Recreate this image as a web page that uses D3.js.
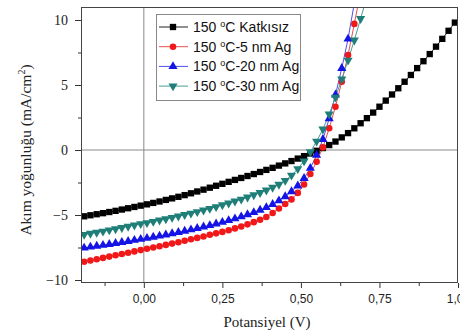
<!DOCTYPE html>
<html>
<head>
<meta charset="utf-8">
<script src="https://cdn.jsdelivr.net/npm/d3@7"></script>
<style>
  html, body { margin: 0; padding: 0; background: #fff; }
  svg { display: block; }
</style>
</head>
<body>
<div id="chart"></div>
<script>
'use strict';

/*** Data */
/* Potential (V), one marker every 0.02 V */
const voltage = [
  -0.19, -0.17, -0.15, -0.13, -0.11, -0.09, -0.07, -0.05, -0.03, -0.01,
   0.01,  0.03,  0.05,  0.07,  0.09,  0.11,  0.13,  0.15,  0.17,  0.19,
   0.21,  0.23,  0.25,  0.27,  0.29,  0.31,  0.33,  0.35,  0.37,  0.39,
   0.41,  0.43,  0.45,  0.47,  0.49,  0.51,  0.53,  0.55,  0.57,  0.59,
   0.61,  0.63,  0.65,  0.67,  0.69,  0.71,  0.73,  0.75,  0.77,  0.79,
   0.81,  0.83,  0.85,  0.87,  0.89,  0.91,  0.93,  0.95,  0.97,  0.99
];

/* Current density (mA/cm2) */
const undoped = [
  -5.10, -5.02, -4.94, -4.86, -4.77, -4.68, -4.58, -4.48, -4.38, -4.28,
  -4.18, -4.07, -3.96, -3.84, -3.72, -3.60, -3.47, -3.33, -3.19, -3.05,
  -2.90, -2.75, -2.60, -2.45, -2.30, -2.15, -2.00, -1.85, -1.69, -1.53,
  -1.37, -1.20, -1.03, -0.85, -0.66, -0.47, -0.27, -0.06,  0.15,  0.38,
   0.65,  0.97,  1.30,  1.67,  2.06,  2.45,  2.88,  3.33,  3.80,  4.27,
   4.75,  5.25,  5.77,  6.30,  6.83,  7.38,  7.95,  8.55,  9.17,  9.80
];
const ag5 = [
  -8.60, -8.50, -8.40, -8.30, -8.20, -8.10, -8.00, -7.90, -7.80, -7.70,
  -7.60, -7.50, -7.40, -7.30, -7.20, -7.09, -6.98, -6.87, -6.76, -6.65,
  -6.52, -6.41, -6.30, -6.17, -6.03, -5.88, -5.72, -5.55, -5.36, -5.15,
  -4.85, -4.50, -4.15, -3.80, -3.30, -2.65, -1.85, -0.90,  0.20,  1.67,
   3.33,  5.25,  7.30,  9.70, 12.20
];
const ag20 = [
  -7.53, -7.46, -7.39, -7.32, -7.25, -7.18, -7.10, -7.02, -6.94, -6.86,
  -6.78, -6.70, -6.61, -6.52, -6.43, -6.33, -6.23, -6.13, -6.02, -5.91,
  -5.80, -5.68, -5.55, -5.42, -5.28, -5.13, -4.97, -4.80, -4.62, -4.42,
  -4.18, -3.90, -3.58, -3.20, -2.75, -2.18, -1.40, -0.40,  0.82,  2.42,
   4.25,  6.28,  8.54, 11.30, 14.00
];
const ag30 = [
  -6.50, -6.42, -6.34, -6.25, -6.16, -6.07, -5.98, -5.88, -5.78, -5.68,
  -5.60, -5.50, -5.40, -5.30, -5.20, -5.09, -4.98, -4.87, -4.75, -4.63,
  -4.50, -4.37, -4.23, -4.09, -3.94, -3.79, -3.63, -3.46, -3.28, -3.09,
  -2.88, -2.65, -2.35, -1.95, -1.45, -0.85, -0.15,  0.67,  1.60,  2.75,
   4.05,  5.45,  6.90,  8.45, 10.10, 11.80
];

/* Legend names */
const seriesNames = ["Katkısız", "-5 nm Ag", "-20 nm Ag", "-30 nm Ag"];

/* Tick labels */
const xTicks = [0, 0.25, 0.5, 0.75, 1.0];
const xTickLabels = ["0,00", "0,25", "0,50", "0,75", "1,00"];
const xMinor = [-0.125, 0.125, 0.375, 0.625, 0.875];
const yTicks = [-10, -5, 0, 5, 10];
const yMinor = [-7.5, -2.5, 2.5, 7.5];

/*** Layout */
const w = 460;
const h = 336;
const plot = { left: 81, right: 458, top: 7, bottom: 283 };

const svg = d3.select("#chart")
  .append("svg")
  .attr("width", w)
  .attr("height", h);

const xScale = d3.scaleLinear()
  .domain([-0.2, 1.0])
  .range([plot.left, plot.right]);

const yScale = d3.scaleLinear()
  .domain([-10.23, 11])
  .range([plot.bottom, plot.top]);

/* Series styling */
const series = [
  { name: seriesNames[0], values: undoped, color: "#000000", line: "#222222", symbol: d3.symbolSquare, size: 40, rotate: 0 },
  { name: seriesNames[1], values: ag5, color: "#f01818", line: "#e65050", symbol: d3.symbolCircle, size: 34, rotate: 0 },
  { name: seriesNames[2], values: ag20, color: "#1414e6", line: "#5050e6", symbol: d3.symbolTriangle, size: 36, rotate: 0 },
  { name: seriesNames[3], values: ag30, color: "#1f7f78", line: "#4a9e96", symbol: d3.symbolTriangle, size: 36, rotate: 180 }
];

/*** Clip */
svg.append("defs").append("clipPath")
  .attr("id", "clip")
  .append("rect")
  .attr("x", plot.left)
  .attr("y", plot.top)
  .attr("width", plot.right - plot.left)
  .attr("height", plot.bottom - plot.top);

/*** Zero lines */
svg.append("line")
  .attr("x1", xScale(0)).attr("x2", xScale(0))
  .attr("y1", plot.top).attr("y2", plot.bottom)
  .attr("stroke", "#8a8a8a").attr("stroke-width", 1);
svg.append("line")
  .attr("x1", plot.left).attr("x2", plot.right)
  .attr("y1", yScale(0)).attr("y2", yScale(0))
  .attr("stroke", "#8a8a8a").attr("stroke-width", 1);

/*** Series */
const lineGen = d3.line()
  .x((d) => xScale(d[0]))
  .y((d) => yScale(d[1]));

const marks = svg.append("g").attr("clip-path", "url(#clip)");

series.forEach((s) => {
  const pts = s.values.map((v, i) => [voltage[i], v]);
  marks.append("path")
    .datum(pts)
    .attr("d", lineGen)
    .attr("fill", "none")
    .attr("stroke", s.line)
    .attr("stroke-width", 1);
});

series.forEach((s) => {
  const pts = s.values.map((v, i) => [voltage[i], v]);
  const sym = d3.symbol().type(s.symbol).size(s.size);
  marks.selectAll(null)
    .data(pts)
    .enter()
    .append("path")
    .attr("d", sym)
    .attr("transform", (d) => "translate(" + xScale(d[0]) + "," + yScale(d[1]) + ") rotate(" + s.rotate + ")")
    .attr("fill", s.color);
});

/*** Axes */
const xAxis = d3.axisBottom(xScale)
  .tickValues(xTicks)
  .tickSize(5)
  .tickPadding(6)
  .tickFormat((d) => xTickLabels[xTicks.indexOf(d)]);

const xAxisMinor = d3.axisBottom(xScale)
  .tickValues(xMinor)
  .tickSize(3)
  .tickFormat("");

const yAxis = d3.axisLeft(yScale)
  .tickValues(yTicks)
  .tickSize(6)
  .tickPadding(7)
  .tickFormat(d3.format("d"));

const yAxisMinor = d3.axisLeft(yScale)
  .tickValues(yMinor)
  .tickSize(3)
  .tickFormat("");

const gx = svg.append("g")
  .attr("transform", "translate(0," + plot.bottom + ")")
  .call(xAxis);
gx.selectAll("text")
  .attr("font-family", "'Liberation Sans', Arial, sans-serif")
  .attr("font-size", 12)
  .attr("fill", "#222");

svg.append("g")
  .attr("transform", "translate(0," + plot.bottom + ")")
  .call(xAxisMinor);

const gy = svg.append("g")
  .attr("transform", "translate(" + plot.left + ",0)")
  .call(yAxis);
gy.selectAll("text")
  .attr("font-family", "'Liberation Serif', 'Times New Roman', serif")
  .attr("font-size", 14)
  .attr("fill", "#222");

svg.append("g")
  .attr("transform", "translate(" + plot.left + ",0)")
  .call(yAxisMinor);

svg.selectAll(".domain").remove();
svg.selectAll(".tick line").attr("stroke", "#333");

/*** Frame */
svg.append("rect")
  .attr("x", plot.left + 0.5)
  .attr("y", plot.top + 0.5)
  .attr("width", plot.right - plot.left - 1)
  .attr("height", plot.bottom - plot.top - 1)
  .attr("fill", "none")
  .attr("stroke", "#444")
  .attr("stroke-width", 1);

/*** Axis titles */
svg.append("text")
  .attr("x", 267)
  .attr("y", 327)
  .attr("text-anchor", "middle")
  .attr("font-family", "'Liberation Serif', 'Times New Roman', serif")
  .attr("font-size", 15)
  .attr("fill", "#222")
  .text("Potansiyel (V)");

const yTitle = svg.append("text")
  .attr("transform", "translate(31,150) rotate(-90)")
  .attr("text-anchor", "middle")
  .attr("font-family", "'Liberation Serif', 'Times New Roman', serif")
  .attr("font-size", 15.5)
  .attr("fill", "#222");
yTitle.append("tspan").text("Akım yoğunluğu (mA/cm");
yTitle.append("tspan").attr("dy", -6).attr("font-size", 10).text("2");
yTitle.append("tspan").attr("dy", 6).text(")");

/*** Legend */
const legend = svg.append("g");
legend.append("rect")
  .attr("x", 156.5)
  .attr("y", 14.5)
  .attr("width", 144)
  .attr("height", 86)
  .attr("fill", "#fff")
  .attr("stroke", "#888");

series.forEach((s, i) => {
  const cy = 27 + i * 19.7;
  legend.append("line")
    .attr("x1", 159).attr("x2", 188)
    .attr("y1", cy).attr("y2", cy)
    .attr("stroke", s.line).attr("stroke-width", 1);
  legend.append("path")
    .attr("d", d3.symbol().type(s.symbol).size(s.size)())
    .attr("transform", "translate(173," + cy + ") rotate(" + s.rotate + ")")
    .attr("fill", s.color);
  const t = legend.append("text")
    .attr("x", 193)
    .attr("y", cy + 5)
    .attr("font-family", "'Liberation Sans', Arial, sans-serif")
    .attr("font-size", 14)
    .attr("fill", "#111");
  t.append("tspan").text("150 ");
  t.append("tspan").attr("dy", -5).attr("font-size", 9).text("o");
  t.append("tspan").attr("dy", 5).text("C" + (i === 0 ? " " : "") + s.name);
});
</script>
</body>
</html>
